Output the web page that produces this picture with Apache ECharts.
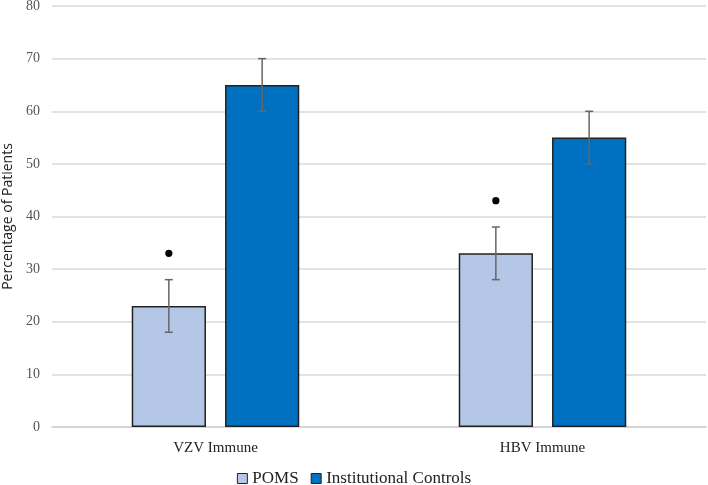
<!DOCTYPE html>
<html><head><meta charset="utf-8">
<script src="https://cdn.jsdelivr.net/npm/echarts@6/dist/echarts.min.js"></script>
<style>html,body{margin:0;padding:0;background:#fff}#c{width:708px;height:485px}</style>
</head><body><div id="c"></div>
<script>
const categories = ['VZV Immune', 'HBV Immune'];
const pomsValues = [23, 33];
const controlValues = [65, 55];
const pomsErr = [5, 5];
const controlErr = [5, 5];
const pomsMarks = [33, 43];
const yTicks = [0, 10, 20, 30, 40, 50, 60, 70, 80];

const BAR_W = 0.227, GAP = 0.257;
function offsetFor(idx, band) {
  const bw = band * BAR_W, g = bw * GAP;
  const total = 2 * bw + g;
  return -total / 2 + bw / 2 + idx * (bw + g);
}
const errData = [];
categories.forEach((c, i) => {
  errData.push([i, pomsValues[i] - pomsErr[i], pomsValues[i] + pomsErr[i], 0]);
  errData.push([i, controlValues[i] - controlErr[i], controlValues[i] + controlErr[i], 1]);
});
const markData = pomsMarks.map((v, i) => [i, v]);

const chart = echarts.init(document.getElementById('c'));
chart.setOption({
  animation: false,
  grid: { left: 52, right: 2, top: 6, bottom: 58, outerBoundsMode: 'none', containLabel: false },
  legend: {
    top: 465, left: 'center', itemWidth: 10, itemHeight: 10, itemGap: 12,
    textStyle: { fontFamily: 'Liberation Serif', fontSize: 17, color: '#222' },
    data: [
      { name: 'POMS', icon: 'rect', itemStyle: { borderColor: '#222', borderWidth: 1 } },
      { name: 'Institutional Controls', icon: 'rect', itemStyle: { borderColor: '#222', borderWidth: 1 } }
    ]
  },
  xAxis: {
    type: 'category', data: categories,
    axisTick: { show: false },
    axisLine: { lineStyle: { color: '#d0d0d0', width: 1.5 } },
    axisLabel: { fontFamily: 'Liberation Serif', fontSize: 15, color: '#222', margin: 14 }
  },
  yAxis: {
    type: 'value', min: 0, max: 80, interval: 10,
    name: 'Percentage of Patients', nameLocation: 'middle', nameGap: 37,
    nameTextStyle: { fontFamily: 'Open Sans', fontSize: 14, color: '#222' },
    axisLabel: { fontFamily: 'Liberation Serif', fontSize: 14, color: '#555', margin: 12,
      formatter: v => yTicks.includes(v) ? String(v) : '' },
    splitLine: { lineStyle: { color: '#d9d9d9', width: 1.5 } },
    axisLine: { show: false }, axisTick: { show: false }
  },
  series: [
    { name: 'POMS', type: 'bar', data: pomsValues, barWidth: '22.7%', barGap: '25.7%',
      itemStyle: { color: '#B4C7E7', borderColor: '#222', borderWidth: 1.5 } },
    { name: 'Institutional Controls', type: 'bar', data: controlValues, barWidth: '22.7%', barGap: '25.7%',
      itemStyle: { color: '#0070C0', borderColor: '#222', borderWidth: 1.5 } },
    { type: 'custom', data: errData, z: 10, silent: true,
      renderItem: function (params, api) {
        const band = api.size([1, 0])[0];
        const x0 = api.coord([api.value(0), 0])[0] + offsetFor(api.value(3), band);
        const lo = api.coord([api.value(0), api.value(1)])[1];
        const hi = api.coord([api.value(0), api.value(2)])[1];
        const style = { stroke: '#666', lineWidth: 1.5 };
        return { type: 'group', children: [
          { type: 'line', shape: { x1: x0, y1: lo, x2: x0, y2: hi }, style },
          { type: 'line', shape: { x1: x0 - 4, y1: lo, x2: x0 + 4, y2: lo }, style },
          { type: 'line', shape: { x1: x0 - 4, y1: hi, x2: x0 + 4, y2: hi }, style }
        ]};
      }
    },
    { type: 'custom', data: markData, z: 10, silent: true,
      renderItem: function (params, api) {
        const band = api.size([1, 0])[0];
        const x0 = api.coord([api.value(0), 0])[0] + offsetFor(0, band);
        const y0 = api.coord([api.value(0), api.value(1)])[1];
        return { type: 'circle', shape: { cx: x0, cy: y0, r: 3.6 }, style: { fill: '#000' } };
      }
    }
  ]
});
</script></body></html>
